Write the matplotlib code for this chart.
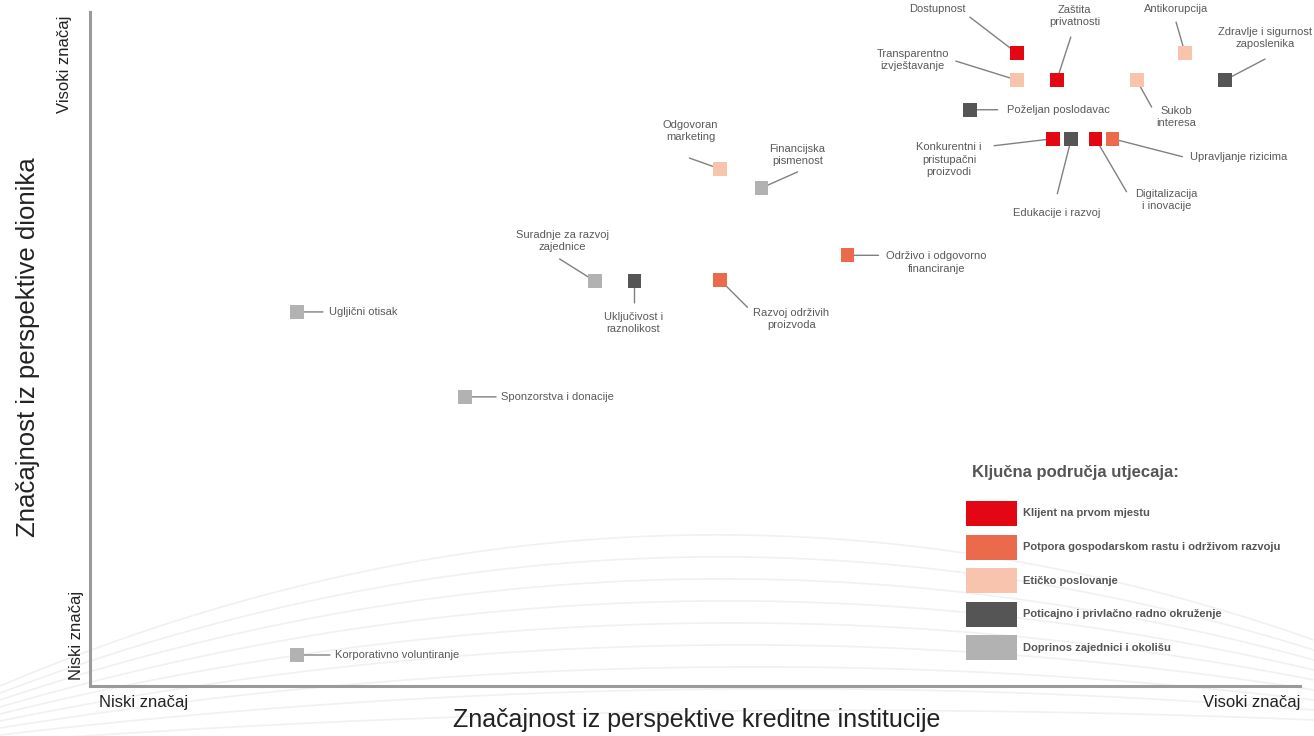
"""Materijalnost: significance for the bank vs. significance for stakeholders."""

import numpy as np
import matplotlib

matplotlib.use("Agg")
import matplotlib.pyplot as plt  # noqa: E402
from matplotlib.patches import Rectangle  # noqa: E402

plt.rcParams["font.family"] = ["Liberation Sans", "DejaVu Sans"]

# ---- data (scores on a 0-10 scale) -------------------------------------
categories = [
    "Klijent na prvom mjestu",
    "Potpora gospodarskom rastu i održivom razvoju",
    "Etičko poslovanje",
    "Poticajno i privlačno radno okruženje",
    "Doprinos zajednici i okolišu",
]
category_colors = ["#e30613", "#ec6a4c", "#f8c4ae", "#555555", "#b2b2b2"]

topics = [
    "Dostupnost",
    "Zaštita\nprivatnosti",
    "Transparentno\nizvještavanje",
    "Sukob\ninteresa",
    "Antikorupcija",
    "Zdravlje i sigurnost\nzaposlenika",
    "Poželjan poslodavac",
    "Konkurentni i\npristupačni\nproizvodi",
    "Edukacije i razvoj",
    "Digitalizacija\ni inovacije",
    "Upravljanje rizicima",
    "Odgovoran\nmarketing",
    "Financijska\npismenost",
    "Održivo i odgovorno\nfinanciranje",
    "Suradnje za razvoj\nzajednice",
    "Uključivost i\nraznolikost",
    "Razvoj održivih\nproizvoda",
    "Ugljični otisak",
    "Sponzorstva i donacije",
    "Korporativno voluntiranje",
]
bank_score = [7.66, 7.99, 7.66, 8.65, 9.05, 9.38, 7.27, 7.96, 8.11, 8.31,
              8.45, 5.21, 5.55, 6.26, 4.17, 4.50, 5.21, 1.71, 3.10, 1.71]
stakeholder_score = [9.39, 8.99, 8.99, 8.99, 9.39, 8.99, 8.55, 8.12, 8.12, 8.12,
                     8.12, 7.67, 7.39, 6.39, 6.01, 6.01, 6.02, 5.55, 4.29, 0.46]
topic_category = [0, 0, 2, 2, 2, 3, 3, 0, 3, 0,
                  1, 2, 4, 1, 4, 3, 1, 4, 4, 4]

# ---- label layout: leader end and text offsets in pixels -----------------
leader_offsets = [(-47, 36), (14, 43), (-61, 19), (15, -27), (-9, 31),
                  (40, 21), (28, 0), (-59, -7), (-14, -55), (31, -53),
                  (70, -18), (-31, 11), (36, 16), (31, 0), (-35, 22),
                  (0, -22), (27, -27), (26, 0), (31, 0), (33, 0)]
text_offsets = [(-79, 44), (18, 64), (-104, 20), (40, -37), (-9, 44),
                (40, 42), (37, 0), (-104, -21), (-15, -74), (71, -61),
                (78, -18), (-30, 38), (36, 33), (89, -7), (-32, 40),
                (-1, -42), (71, -39), (32, 0), (36, 0), (38, 0)]
text_align = ["center", "center", "center", "center", "center",
              "center", "left", "center", "center", "center",
              "left", "center", "center", "center", "center",
              "center", "center", "left", "left", "left"]

W, H = 1314, 736
fig = plt.figure(figsize=(W / 100, H / 100), dpi=100)

# background: faint decorative swooshes, drawn in figure pixels
bg = fig.add_axes([0, 0, 1, 1], zorder=0)
bg.set_xlim(0, W)
bg.set_ylim(H, 0)
bg.axis("off")
xs = np.linspace(0, W, 300)
for k in range(9):
    pts_x = [0, 654, W]
    pts_y = [686 + 7 * k, 536 + 22 * k, 640 + 10 * k]
    coef = np.polyfit(pts_x, pts_y, 2)
    bg.plot(xs, np.polyval(coef, xs), color="#f1f1f1", lw=1.2, zorder=0)

# main axes
ax = fig.add_axes([90 / W, 50 / H, 1210 / W, 674 / H], zorder=1)
ax.patch.set_alpha(0)
ax.set_xlim(0, 10)
ax.set_ylim(0, 10)
ax.set_xticks([])
ax.set_yticks([])
for side in ("top", "right"):
    ax.spines[side].set_visible(False)
for side in ("left", "bottom"):
    ax.spines[side].set_color("#9a9a9a")
    ax.spines[side].set_linewidth(2.2)

colors = [category_colors[c] for c in topic_category]
ax.scatter(bank_score, stakeholder_score, marker="s", s=100, c=colors,
           linewidths=0, zorder=3, clip_on=False)

for i, name in enumerate(topics):
    xy = (bank_score[i], stakeholder_score[i])
    ax.annotate("", xy=xy, xytext=leader_offsets[i], textcoords="offset pixels",
                arrowprops=dict(arrowstyle="-", color="#808080", lw=1.0,
                                shrinkA=0, shrinkB=0), zorder=2)
    ax.annotate(name, xy=xy, xytext=text_offsets[i], textcoords="offset pixels",
                ha=text_align[i], va="center", fontsize=8, color="#5a5a5a",
                multialignment="center", linespacing=1.3, zorder=4)

# axis captions
fig.text(28 / W, 1 - 347 / H, "Značajnost iz perspektive dionika", rotation=90,
         ha="center", va="center", fontsize=18.5, color="#222222")
fig.text(697 / W, 1 - 720 / H, "Značajnost iz perspektive kreditne institucije",
         ha="center", va="center", fontsize=18, color="#222222")
fig.text(65 / W, 1 - 64 / H, "Visoki značaj", rotation=90, ha="center",
         va="center", fontsize=12, color="#222222")
fig.text(76 / W, 1 - 635 / H, "Niski značaj", rotation=90, ha="center",
         va="center", fontsize=12, color="#222222")
fig.text(99 / W, 1 - 702 / H, "Niski značaj", ha="left", va="center",
         fontsize=12, color="#222222")
fig.text(1300 / W, 1 - 702 / H, "Visoki značaj", ha="right", va="center",
         fontsize=12, color="#222222")

# legend, drawn by hand on the background axes
bg.text(972, 473, "Ključna područja utjecaja:", ha="left", va="center",
        fontsize=12, fontweight="bold", color="#555555", zorder=5)
for i, (cat, col) in enumerate(zip(categories, category_colors)):
    top = 501 + i * 33.6
    bg.add_patch(Rectangle((966, top), 51, 25, facecolor=col, edgecolor="none",
                           zorder=5))
    bg.text(1023, top + 12.5, cat, ha="left", va="center", fontsize=8,
            fontweight="bold", color="#555555", zorder=5)

fig.savefig("out.png", dpi=100)
